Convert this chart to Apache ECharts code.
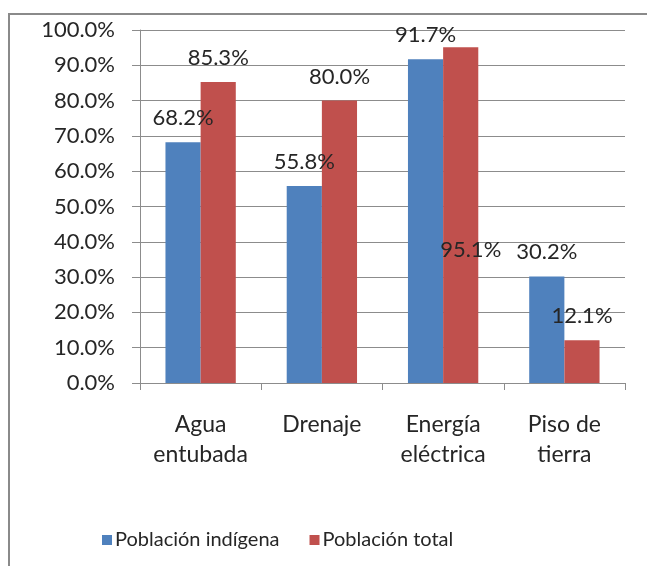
<!DOCTYPE html>
<html>
<head>
<meta charset="utf-8">
<script src="https://cdn.jsdelivr.net/npm/echarts@6/dist/echarts.min.js"></script>
<style>
  html, body { margin: 0; padding: 0; background: #fff; }
  #main { width: 647px; height: 566px; }
</style>
</head>
<body>
<div id="main"></div>
<script>
// datos
const categories = ['Agua\nentubada', 'Drenaje', 'Energía\neléctrica', 'Piso de\ntierra'];
const seriesNames = ['Población indígena', 'Población total'];
const indigena = [68.2, 55.8, 91.7, 30.2];
const total = [85.3, 80.0, 95.1, 12.1];

var chart = echarts.init(document.getElementById('main'));
var font = 'Lato, "Open Sans", sans-serif';
var txt = '#262626';
var gray = '#8c8c8c';

function pct(v) {
    return Number(v).toFixed(1) + '%';
}

var labelBase = {
    show: true,
    position: 'top',
    distance: 13,
    fontFamily: font,
    fontSize: 22,
    color: txt,
    formatter: function (p) { return pct(p.value); }
};

var option = {
    backgroundColor: '#fff',
    animation: false,
    color: ['#4F81BD', '#C0504D'],
    // marco exterior
    graphic: [{
        type: 'rect',
        shape: { x: 9, y: 14, width: 660, height: 580 },
        style: { fill: 'none', stroke: '#8a8a8a', lineWidth: 2 },
        silent: true
    }],
    grid: { left: 140, right: 22, top: 30, bottom: 183 },
    legend: {
        left: 97,
        top: 525,
        icon: 'rect',
        itemWidth: 10,
        itemHeight: 10,
        itemGap: 30,
        textStyle: { fontFamily: font, fontSize: 20, color: txt, padding: [0, 0, 0, -2] },
        data: seriesNames
    },
    xAxis: {
        type: 'category',
        data: categories,
        axisLine: { lineStyle: { color: gray, width: 1 } },
        axisTick: { show: true, length: 7, lineStyle: { color: gray } },
        axisLabel: {
            interval: 0,
            margin: 27,
            fontFamily: font,
            fontSize: 23,
            lineHeight: 30,
            color: txt,
            verticalAlign: 'top'
        },
        splitLine: { show: false }
    },
    yAxis: {
        type: 'value',
        min: 0,
        max: 100,
        interval: 10,
        axisLine: { show: true, lineStyle: { color: gray, width: 1 } },
        axisTick: { show: true, length: 8, lineStyle: { color: gray } },
        axisLabel: {
            margin: 25,
            fontFamily: font,
            fontSize: 22,
            color: txt,
            formatter: function (v) { return pct(v); }
        },
        splitLine: { show: true, lineStyle: { color: gray, width: 1 } }
    },
    series: [{
        name: seriesNames[0],
        type: 'bar',
        data: indigena,
        barGap: '0%',
        barCategoryGap: '42%',
        label: labelBase
    }, {
        name: seriesNames[1],
        type: 'bar',
        // la etiqueta de 95.1% esta desplazada en el original
        data: total.map(function (v, i) {
            return i === 2 ? { value: v, label: { offset: [10, 227] } } : v;
        }),
        barGap: '0%',
        barCategoryGap: '42%',
        label: labelBase
    }]
};

chart.setOption(option);
</script>
</body>
</html>
